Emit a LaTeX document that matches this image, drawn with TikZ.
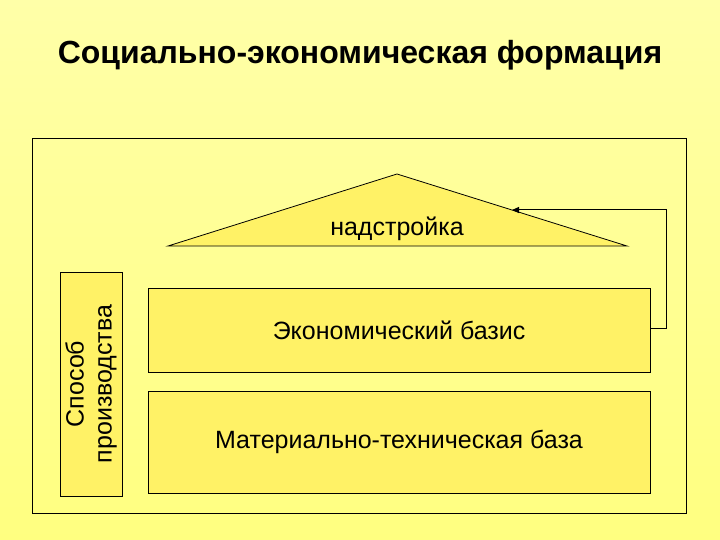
\documentclass[tikz,border=0pt]{standalone}
\usepackage{fontspec}
\setmainfont{Liberation Sans}
\usetikzlibrary{arrows.meta}
\definecolor{bgA}{HTML}{FFFFA8}
\definecolor{bgB}{HTML}{FFFF80}
\definecolor{boxf}{HTML}{FFF266}
\tikzset{
  blk/.style={draw=black, fill=boxf, line width=0.8pt},
  lbl/.style={font=\fontsize{25}{28}\selectfont},
}
\begin{document}
\begin{tikzpicture}[x=1pt,y=-1pt]
\shade[top color=bgA, bottom color=bgB] (0,0) rectangle (720,540);
\useasboundingbox (0,0) rectangle (720,540);
\node[font=\bfseries\fontsize{32}{36}\selectfont] (title) at (360,55) {Социально-экономическая формация};
\draw[line width=0.8pt] (32,138) rectangle (686,513);
\draw[blk] (168,246) -- (397,174) -- (627,246) -- cycle;
\node[lbl] (nad) at (397,229) {надстройка};
\node[blk, minimum width=62pt, minimum height=224pt] (sp) at (91,384) {};
\node[lbl, rotate=90, align=center] at (sp) {Способ\\производства};
\node[blk, minimum width=502pt, minimum height=84pt] (eb) at (399,330) {};
\node[lbl] at (eb) {Экономический базис};
\node[blk, minimum width=502pt, minimum height=102pt] (mt) at (399,442) {};
\node[lbl] at (mt) {Материально-техническая база};
\coordinate (tip) at (512,210);
\draw[line width=1pt, -{Triangle[length=7pt,width=6pt]}] (eb.east |- 0,328) -- (666,328) -- (666,210) -- (tip);
\end{tikzpicture}
\end{document}
